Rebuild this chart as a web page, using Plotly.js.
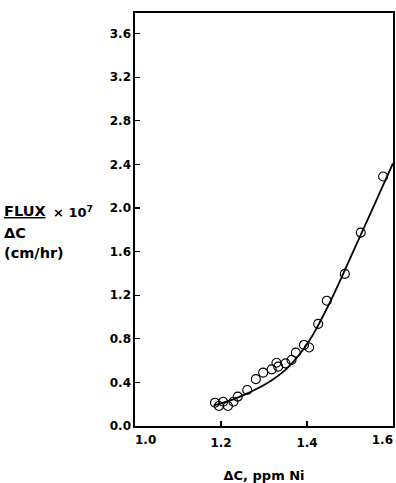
<!DOCTYPE html>
<html><head><meta charset="utf-8">
<script src="https://cdn.plot.ly/plotly-3.0.1.min.js"></script>
<style>html,body{margin:0;padding:0;background:#fff}#chart{width:396px;height:483px}</style>
</head><body><div id="chart"></div>
<script>
// measured data (ΔC ppm Ni, flux/ΔC ×10^7 cm/hr)
const pointX = [1.186,1.195,1.205,1.216,1.229,1.239,1.261,1.281,1.298,1.318,1.329,1.333,1.350,1.364,1.374,1.393,1.405,1.426,1.446,1.488,1.525,1.577];
const pointY = [0.214,0.184,0.223,0.184,0.223,0.270,0.330,0.430,0.490,0.520,0.580,0.545,0.575,0.606,0.673,0.744,0.720,0.937,1.150,1.396,1.775,2.290];
// fitted curve
const curveX = [1.183,1.20,1.22,1.24,1.26,1.28,1.30,1.32,1.34,1.36,1.38,1.40,1.42,1.44,1.46,1.48,1.50,1.52,1.54,1.56,1.58,1.60];
const curveY = [0.19,0.207,0.233,0.263,0.297,0.335,0.377,0.425,0.483,0.555,0.645,0.75,0.88,1.03,1.19,1.36,1.535,1.71,1.885,2.06,2.235,2.41];
// tick labels
const xMidTicks = [1.2,1.4];
const xMidText = ["1.2","1.4"];
const xLeftTick = [1.0];
const xLeftText = ["1.0"];
const xRightTick = [1.6];
const xRightText = ["1.6"];
const yTickVals = [0.0,0.4,0.8,1.2,1.6,2.0,2.4,2.8,3.2,3.6];
const yTickText = ["0.0","0.4","0.8","1.2","1.6","2.0","2.4","2.8","3.2","3.6"];
const xRange = [1.0, 1.6];
const yRange = [0, 3.79];

const F = "DejaVu Sans, Liberation Sans, Arial, sans-serif";
const data = [
  {x: curveX, y: curveY, mode: 'lines', line: {color: '#000', width: 1.8, shape: 'spline', smoothing: 0.8}, hoverinfo: 'skip'},
  {x: pointX, y: pointY, mode: 'markers', marker: {symbol: 'circle-open', size: 9, color: '#000', line: {width: 1.1, color: '#000'}}},
  {x: [], y: [], xaxis: 'x2', yaxis: 'y', mode: 'markers', hoverinfo: 'skip'},
  {x: [], y: [], xaxis: 'x3', yaxis: 'y', mode: 'markers', hoverinfo: 'skip'}
];
const tf = {family: F, size: 12, weight: 'bold', color: '#000'};
const overlayAxis = (vals, text, pos) => ({
  overlaying: 'x', anchor: 'y', side: 'bottom', range: xRange,
  tickvals: vals, ticktext: text, ticks: '', showline: false, showgrid: false, zeroline: false,
  ticklabelposition: pos, ticklabeloverflow: 'allow', ticklabelstandoff: 5, tickfont: tf
});
const layout = {
  width: 396, height: 483,
  margin: {l: 135, r: 3, t: 13, b: 57},
  showlegend: false,
  paper_bgcolor: '#fff', plot_bgcolor: '#fff',
  font: {family: F, color: '#000', size: 12, weight: 'bold'},
  xaxis: {
    range: xRange, tickvals: xMidTicks, ticktext: xMidText,
    ticks: 'inside', ticklen: 5, tickwidth: 1.2, tickcolor: '#000',
    ticklabelstandoff: 5,
    showline: true, linecolor: '#000', linewidth: 1.6, mirror: true,
    showgrid: false, zeroline: false,
    tickfont: tf,
    title: {text: 'ΔC, ppm Ni', font: {family: F, size: 13, weight: 'bold'}, standoff: 23}
  },
  xaxis2: overlayAxis(xLeftTick, xLeftText, 'outside right'),
  xaxis3: overlayAxis(xRightTick, xRightText, 'outside left'),
  yaxis: {
    range: yRange, tickvals: yTickVals, ticktext: yTickText,
    ticks: 'inside', ticklen: 5, tickwidth: 1.2, tickcolor: '#000',
    ticklabeloverflow: 'allow',
    showline: true, linecolor: '#000', linewidth: 1.6, mirror: true,
    showgrid: false, zeroline: false,
    tickfont: tf
  },
  annotations: [
    {xref: 'paper', yref: 'paper', x: -0.515, y: 0.52, xanchor: 'left', yanchor: 'middle', showarrow: false,
     text: '<u>FLUX</u>', font: {family: F, size: 14.5, weight: 'bold'}},
    {xref: 'paper', yref: 'paper', x: -0.325, y: 0.517, xanchor: 'left', yanchor: 'middle', showarrow: false,
     text: '× 10<sup>7</sup>', font: {family: F, size: 13, weight: 'bold'}},
    {xref: 'paper', yref: 'paper', x: -0.515, y: 0.468, xanchor: 'left', yanchor: 'middle', showarrow: false,
     text: 'ΔC', font: {family: F, size: 14.5, weight: 'bold'}},
    {xref: 'paper', yref: 'paper', x: -0.515, y: 0.418, xanchor: 'left', yanchor: 'middle', showarrow: false,
     text: '(cm/hr)', font: {family: F, size: 14.5, weight: 'bold'}}
  ]
};
Plotly.newPlot('chart', data, layout, {staticPlot: true});
</script></body></html>
